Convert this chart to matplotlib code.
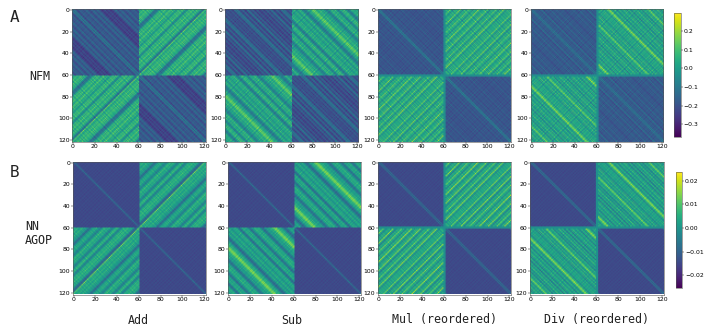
import numpy as np
import matplotlib
matplotlib.use('Agg')
import matplotlib.pyplot as plt

W, H = 706, 336

# Valores leidos a ojo de cada banda (NFM en 0.01, NN en 0.001)
# diag: bloque de la diagonal, por distancia |i-j|; off: bloque cruzado, por banda
nfm_add_diag = [-20,-7,-15,-21,-23,-17,-15,-19,-17,-20,-21,-15,-14,-18,-20,-23,-19,-15,-14,-17,-22,-18,-14,-16,-19,-23,-25,-26,-23,-20,-25]
nfm_add_off = [4,0,3,5,8,6,2,7,9,4,7,1,5,0,-9,-15,-10,-12,-8,1,
               4,7,2,6,9,5,0,3,8,10,4,1,6,2,-4,1,5,8,3,7,
               9,4,-3,-7,-4,4,7,2,6,10,5,1,4,8,6,3,-1,-8,-16,-4,13]

nfm_sub_diag = [-22,-18,-24,-20,-16,-21,-24,-17,-12,-16,-9,-14,-21,-24,-18,-13,-20,-25,-22,-15,-10,-17,-23,-20,-14,-19,-25,-23,-16,-21,-24]
nfm_sub_off = [2,5,0,-5,-1,3,6,1,-4,-8,-11,-9,-6,0,3,1,6,10,12,13,
               9,4,1,4,7,2,-1,3,0,-4,-6,-10,-7,-1,4,7,3,0,5,2,
               -5,-9,-6,1,6,3,8,4,0,-7,-11,-9,-3,2,6,3,1,5,0,-3,1]

nfm_mul_diag = [-16,-8,-18,-20,-17,-19,-21,-18,-16,-20,-22,-19,-17,-20,-18,-21,-19,-17,-20,-22,-18,-16,-20,-19,-21,-17,-19,-22,-20,-18,-21]
nfm_mul_off = [2,5,1,4,13,3,0,-5,4,2,6,1,3,15,4,-1,-7,2,5,1,
               4,12,2,5,0,-6,3,6,1,4,16,5,2,-4,3,1,6,2,14,4,
               0,-8,2,5,1,3,11,4,1,-6,3,6,2,17,5,0,-5,4,2,3]

nfm_div_diag = [-17,-9,-19,-16,-20,-14,-21,-18,-16,-11,-20,-22,-17,-19,-15,-21,-18,-12,-20,-17,-22,-16,-19,-13,-21,-18,-17,-20,-15,-22,-19]
nfm_div_off = [1,4,0,5,2,-4,3,7,12,18,7,2,-5,3,5,1,-8,2,4,1,
               -4,3,6,0,3,-7,1,5,0,-10,2,4,-3,3,7,1,-5,4,0,-9,
               2,6,-1,2,4,14,10,2,-5,3,5,-4,2,7,-1,3,-7,1,4,0]

nn_add_diag = [-7,-13,-14,-15,-15,-14,-15,-15,-14,-15,-15,-14,-15,-15,-15,-14,-15,-15,-14,-15,-15,-15,-14,-15,-15,-14,-15,-15,-15,-14,-15]
nn_add_off = [3,5,2,4,6,3,1,4,6,2,3,0,2,-2,-6,-9,-5,-1,2,4,
              3,5,2,0,-2,-5,-2,2,5,7,4,2,5,3,0,-3,-5,-2,3,5,
              7,4,-1,-5,-3,1,4,6,3,5,7,4,2,5,3,-1,-6,-9,-10,-3,13]

nn_sub_diag = [-6,-13,-14,-15,-15,-14,-15,-15,-14,-15,-15,-15,-14,-15,-15,-14,-15,-15,-15,-14,-15,-15,-14,-15,-15,-15,-14,-15,-15,-14,-15]
nn_sub_off = [3,5,1,-1,2,4,1,-3,-6,-9,-8,-4,0,3,5,4,7,11,13,13,
              10,6,3,5,2,0,3,1,-3,-6,-8,-5,-1,3,5,2,4,6,3,1,
              -2,-6,-8,-4,2,4,1,3,5,2,-4,-8,-7,-2,3,5,2,4,1,-2,2]

nn_mul_diag = [-13,-7,-14,-15,-14,-15,-15,-14,-15,-14,-15,-15,-14,-15,-15,-14,-15,-14,-15,-15,-14,-15,-15,-14,-15,-14,-15,-15,-14,-15,-15]
nn_mul_off = [3,5,2,4,14,3,1,-5,4,2,6,1,3,16,5,0,-6,3,5,2,
              4,13,3,5,1,-4,4,6,2,5,17,4,2,-3,4,2,6,3,15,4,
              1,-6,3,5,2,4,12,5,2,-4,3,6,2,16,5,1,-3,4,3,4]

nn_div_diag = [-13,-6,-14,-15,-15,-14,-15,-14,-15,-15,-14,-15,-15,-14,-15,-15,-14,-15,-14,-15,-15,-14,-15,-15,-14,-15,-15,-14,-15,-15,-14]
nn_div_off = [2,5,1,4,2,-4,3,6,11,15,8,3,-3,3,5,1,-6,3,5,2,
              -2,4,6,1,3,-7,2,5,1,-8,3,5,-2,3,7,2,-4,4,1,-6,
              3,6,0,3,5,13,9,3,-3,4,5,-2,3,7,-1,4,-5,2,4,1]

# textura fina en la otra direccion de cada bloque
nfm_off_grain = [3,-4,2,5,-3,-6,4,1,-2,6,-5,3,-1,4,-4,2,6,-3,-5,1,
                 4,-2,5,-6,3,-1,2,-4,6,1,-3,4,-5,2,5,-2,-6,3,1,-4,
                 6,-1,2,-5,4,3,-3,-2,5,-6,1,4,-4,2,-1,6,-3,3,-5,2,0]
nfm_diag_grain = [1,-2,2,0,-1,3,-2,1,-3,2,0,-1,2,-3,1,3,-2,0,2,-1,
                  -3,1,2,-2,3,0,-1,2,-3,1,0,3,-2,1,-1,2,-3,0,2,-2,
                  1,3,-1,-2,2,0,-3,1,2,-1,3,-2,0,1,-3,2,-1,3,-2,0,1]
nn_off_grain = [2,-2,1,3,-1,-3,2,0,-2,3,-2,1,-1,2,-3,1,3,-1,-2,0,
                2,-1,3,-3,1,0,2,-2,3,1,-1,2,-3,1,2,-1,-3,2,0,-2,
                3,0,1,-3,2,1,-2,-1,3,-3,0,2,-2,1,-1,3,-2,1,-3,2,0]
nn_diag_grain = [0,1,-1,0,1,0,-1,1,0,-1,1,0,-1,0,1,-1,0,1,0,-1,
                 1,-1,0,1,0,-1,1,0,-1,1,0,-1,1,0,-1,0,1,-1,1,0,
                 -1,0,1,0,-1,1,-1,0,1,0,-1,1,0,-1,1,0,-1,1,0,-1,0]

nfm_range = (-0.368, 0.296)
nn_range = (-0.0256, 0.0236)
nfm_ticks = [-0.3, -0.2, -0.1, 0.0, 0.1, 0.2]
nn_ticks = [-0.02, -0.01, 0.00, 0.01, 0.02]
ticks = [0, 20, 40, 60, 80, 100, 120]
col_names = ['Add', 'Sub', 'Mul (reordered)', 'Div (reordered)']


def build(diag, off, mode, gap, fill, off_grain, diag_grain):
    k = len(off)
    ii, jj = np.indices((k, k))
    d = np.abs(ii - jj)
    d = np.minimum(d, k - d)
    A = np.array(diag)[d] + np.array(diag_grain)[(ii + jj) % k] * (d > 0)
    if mode == 'sum':
        B = np.array(off)[(ii + jj) % k] + np.array(off_grain)[(jj - ii) % k]
    else:
        B = np.array(off)[(jj - ii) % k] + np.array(off_grain)[(ii + jj) % k]
    M = np.full((2*k + gap, 2*k + gap), float(fill))
    M[:k, :k] = A
    M[k+gap:, k+gap:] = A
    M[:k, k+gap:] = B
    M[k+gap:, :k] = B.T
    return M


def px_axes(fig, x0, y0, x1, y1):
    return fig.add_axes([x0/W, 1 - y1/H, (x1-x0)/W, (y1-y0)/H])


fig = plt.figure(figsize=(W/100, H/100), dpi=100)

rows = [
    (0.01, nfm_range, nfm_off_grain, nfm_diag_grain,
     [(72.3, 205.7), (225, 358.3), (378, 510.7), (531, 663.3)], (9.3, 141.7),
     [(nfm_add_diag, nfm_add_off, 'sum', 0, -4), (nfm_sub_diag, nfm_sub_off, 'diff', 0, -4),
      (nfm_mul_diag, nfm_mul_off, 'sum', 2, -4), (nfm_div_diag, nfm_div_off, 'diff', 2, -4)]),
    (0.001, nn_range, nn_off_grain, nn_diag_grain,
     [(73, 205.7), (228, 360.7), (378, 511), (530, 663.7)], (162, 294.5),
     [(nn_add_diag, nn_add_off, 'sum', 0, -1), (nn_sub_diag, nn_sub_off, 'diff', 0, -1),
      (nn_mul_diag, nn_mul_off, 'sum', 2, -1), (nn_div_diag, nn_div_off, 'diff', 2, -1)]),
]

images = []
for scale, vr, og, dg, xs, ys, specs in rows:
    for (x0, x1), (diag, off, mode, gap, fill) in zip(xs, specs):
        ax = px_axes(fig, x0, ys[0], x1, ys[1])
        M = build(diag, off, mode, gap, fill, og, dg) * scale
        im = ax.imshow(M, cmap='viridis', vmin=vr[0], vmax=vr[1], aspect='auto',
                       interpolation='bilinear')
        ax.set_xticks(ticks)
        ax.set_yticks(ticks)
        ax.tick_params(labelsize=4.4, length=1.2, width=0.3, pad=0.8, colors='black')
        for s in ax.spines.values():
            s.set_linewidth(0.4)
            s.set_color('#555555')
    images.append(im)

cax1 = px_axes(fig, 674, 13, 680.7, 137)
cb1 = fig.colorbar(images[0], cax=cax1, ticks=nfm_ticks)
cax2 = px_axes(fig, 676, 172.3, 682.3, 288.3)
cb2 = fig.colorbar(images[1], cax=cax2, ticks=nn_ticks)
cb2.ax.set_yticklabels(['\u22120.02', '\u22120.01', '0.00', '0.01', '0.02'])
for cb in (cb1, cb2):
    cb.ax.tick_params(labelsize=4.4, length=1.2, width=0.3, pad=0.8, colors='black')
    cb.outline.set_linewidth(0.4)
    cb.outline.set_edgecolor('#555555')

mono = 'DejaVu Sans Mono'
fig.text(15/W, 1 - 18/H, 'A', family=mono, fontsize=11.5, ha='center', va='center', color='#222222')
fig.text(15/W, 1 - 173/H, 'B', family=mono, fontsize=11.5, ha='center', va='center', color='#222222')
fig.text(40/W, 1 - 76/H, 'NFM', family=mono, fontsize=8.4, ha='center', va='center', color='#222222')
fig.text(25/W, 1 - 226/H, 'NN', family=mono, fontsize=8.4, ha='left', va='center', color='#222222')
fig.text(25/W, 1 - 240/H, 'AGOP', family=mono, fontsize=8.4, ha='left', va='center', color='#222222')
for name, cx in zip(col_names, [138, 292, 444, 597]):
    fig.text(cx/W, 1 - 320/H, name, family=mono, fontsize=8.4, ha='center', va='center', color='#222222')

fig.savefig('out.png', dpi=100)
